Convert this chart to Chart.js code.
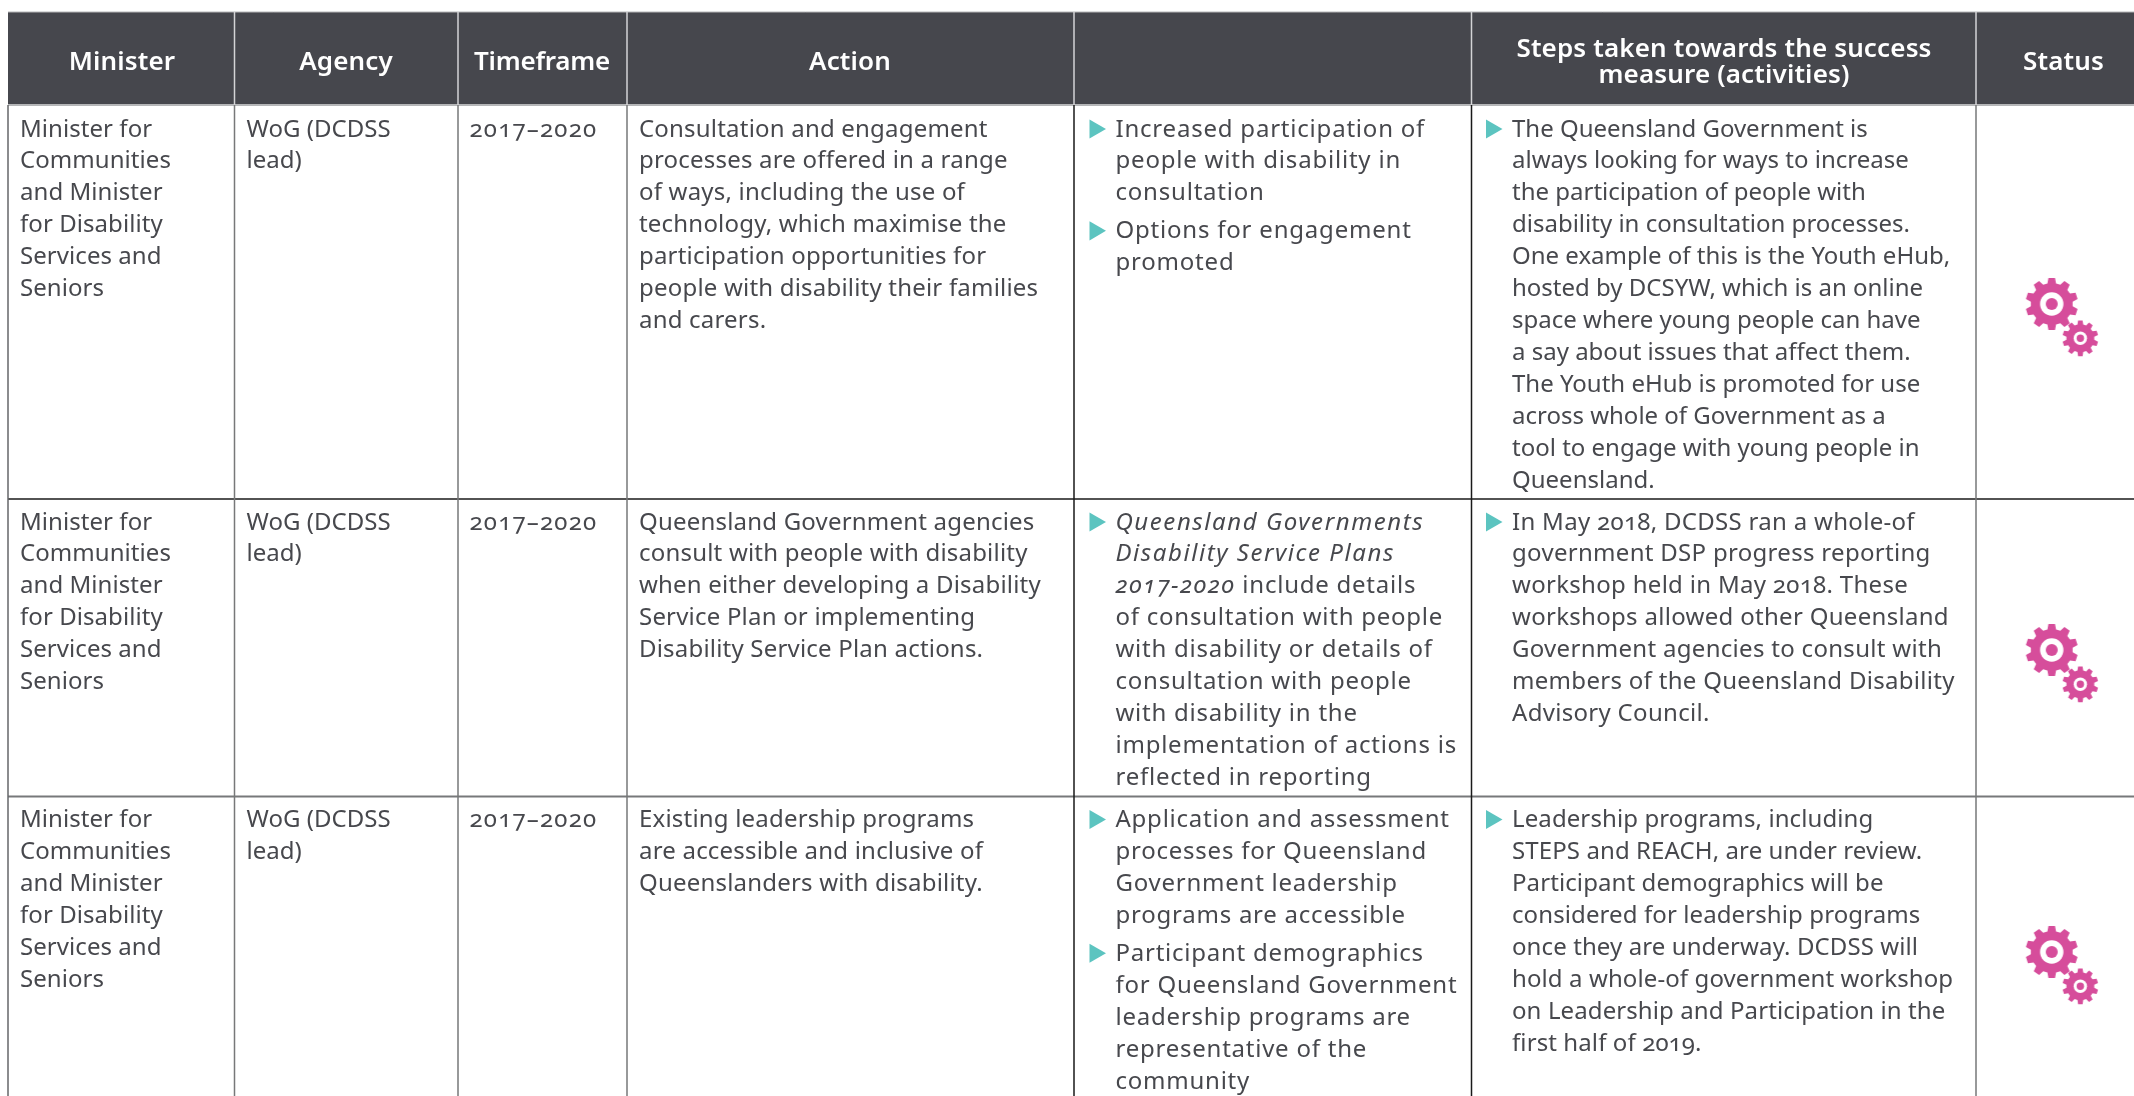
<!DOCTYPE html>
<html>
<head>
<meta charset="utf-8">
<script src="https://cdn.jsdelivr.net/npm/chart.js@4"></script>
<style>
  html, body { margin: 0; background: #fff; overflow: hidden; }
  canvas { display: block; font-feature-settings: "onum" 1; }
</style>
</head>
<body>
<canvas id="table-chart" width="2134" height="1096"></canvas>
<script>
// table content, one entry per row, lines broken as in the source page
const headers = ["Minister", "Agency", "Timeframe", "Action", "", "Steps taken towards the success|measure (activities)", "Status"];
const ministers = [
    ["Minister for", "Communities", "and Minister", "for Disability", "Services and", "Seniors"],
    ["Minister for", "Communities", "and Minister", "for Disability", "Services and", "Seniors"],
    ["Minister for", "Communities", "and Minister", "for Disability", "Services and", "Seniors"],
];
const agencies = [
    ["WoG (DCDSS", "lead)"],
    ["WoG (DCDSS", "lead)"],
    ["WoG (DCDSS", "lead)"],
];
const timeframes = ["2017–2020", "2017–2020", "2017–2020"];
const actions = [
    ["Consultation and engagement", "processes are offered in a range", "of ways, including the use of", "technology, which maximise the", "participation opportunities for", "people with disability their families", "and carers."],
    ["Queensland Government agencies", "consult with people with disability", "when either developing a Disability", "Service Plan or implementing", "Disability Service Plan actions."],
    ["Existing leadership programs", "are accessible and inclusive of", "Queenslanders with disability."],
];
// * toggles italic
const measures = [
    [["Increased participation of", "people with disability in", "consultation"], ["Options for engagement", "promoted"]],
    [["*Queensland Governments*", "*Disability Service Plans*", "*2017-2020* include details", "of consultation with people", "with disability or details of", "consultation with people", "with disability in the", "implementation of actions is", "reflected in reporting"]],
    [["Application and assessment", "processes for Queensland", "Government leadership", "programs are accessible"], ["Participant demographics", "for Queensland Government", "leadership programs are", "representative of the", "community"]],
];
const activities = [
    [["The Queensland Government is", "always looking for ways to increase", "the participation of people with", "disability in consultation processes.", "One example of this is the Youth eHub,", "hosted by DCSYW, which is an online", "space where young people can have", "a say about issues that affect them.", "The Youth eHub is promoted for use", "across whole of Government as a", "tool to engage with young people in", "Queensland."]],
    [["In May 2018, DCDSS ran a whole-of", "government DSP progress reporting", "workshop held in May 2018. These", "workshops allowed other Queensland", "Government agencies to consult with", "members of the Queensland Disability", "Advisory Council."]],
    [["Leadership programs, including", "STEPS and REACH, are under review.", "Participant demographics will be", "considered for leadership programs", "once they are underway. DCDSS will", "hold a whole-of government workshop", "on Leadership and Participation in the", "first half of 2019."]],
];

// table geometry, in canvas units
const columnEdges = [8, 234.5, 458, 627, 1074, 1471.5, 1976];
const rowEdges = [12, 105, 499, 796.5];
const rowBaselines = [136.5, 529.5, 827];
const headerCentres = [122, 346, 542, 850, 0, 1724, 2063.5];
const headerTracking = [0.15, 0.15, -0.25, 0.15, 0, 0.15, 0.15];
const gearRows = [317, 663, 965];
const TEXT = "#47484d";
const HEADER = "#46474d";
const TEAL = "#5cc4c0";
const PINK = "#d64d9b";
const LINE_H = 31.95;
const FAMILY = '"Noto Sans", sans-serif';

const paddings = [20, 246.5, 469.5, 639, 1115.5, 1512];
const bulletX = { 4: 1095, 5: 1491.5 };
// letter spacing per column and row
const tracking = [
    [0.06, 0.06, 0.06],
    [0.04, 0.04, 0.04],
    [1.2, 1.2, 1.2],
    [0.2, 0.2, 0.2],
    [0.79, 0.76, 0.76],
    [0.0, 0.3, 0.1],
];

function ruleSet(points, color, width) {
    return { data: points, showLine: true, borderColor: color, borderWidth: width, pointRadius: 0 };
}

const bottom = 1096;
const rules = [];
columnEdges.slice(1).forEach((x) => {
    const dark = x == 1074 || x == 1471.5;
    rules.push(ruleSet([{ x, y: rowEdges[0] }, { x, y: rowEdges[1] }], "#d4d4d6", 1.5));
    rules.push(ruleSet([{ x, y: rowEdges[1] }, { x, y: bottom }], dark ? "#1a1a1a" : "#777879", 1.5));
});
rules.push(ruleSet([{ x: columnEdges[0], y: rowEdges[1] }, { x: columnEdges[0], y: bottom }], "#666769", 1.5));
rules.push(ruleSet([{ x: 8, y: rowEdges[0] }, { x: 2134, y: rowEdges[0] }], "#b5b6b8", 1));
rules.push(ruleSet([{ x: 8, y: rowEdges[1] }, { x: 2134, y: rowEdges[1] }], "#b5b6b8", 2));
rules.push(ruleSet([{ x: 8, y: rowEdges[2] }, { x: 2134, y: rowEdges[2] }], "#1a1a1a", 1.5));
rules.push(ruleSet([{ x: 8, y: rowEdges[3] }, { x: 2134, y: rowEdges[3] }], "#77787a", 2));

// baseline of each line in a block list, with the extra gap between bullets
function layoutBlocks(blocks, top) {
    const out = [];
    let y = top;
    blocks.forEach((lines) => {
        lines.forEach((text, i) => {
            out.push({ text, y, first: i == 0 });
            y += LINE_H;
        });
        y += 6;
    });
    return out;
}

const bulletPoints = [];
[measures, activities].forEach((col, c) => {
    col.forEach((blocks, r) => {
        layoutBlocks(blocks, rowBaselines[r]).forEach((l) => {
            if (l.first) bulletPoints.push({ x: bulletX[c + 4], y: l.y - 7.5 });
        });
    });
});

function drawGear(ctx, cx, cy, outer, root, holeOuter, holeInner, teeth) {
    ctx.fillStyle = PINK;
    ctx.beginPath();
    for (let i = 0; i < teeth; i++) {
        const a = (i / teeth) * Math.PI * 2 - Math.PI / 2;
        const step = (Math.PI * 2) / teeth;
        const pts = [[root, a - step * 0.33], [outer, a - step * 0.2], [outer, a + step * 0.2], [root, a + step * 0.33]];
        pts.forEach(([r, t]) => ctx.lineTo(cx + Math.cos(t) * r, cy + Math.sin(t) * r));
    }
    ctx.closePath();
    ctx.fill();
    ctx.fillStyle = "#fff";
    ctx.beginPath();
    ctx.arc(cx, cy, holeOuter, 0, Math.PI * 2);
    ctx.fill();
    ctx.fillStyle = PINK;
    ctx.beginPath();
    ctx.arc(cx, cy, holeInner, 0, Math.PI * 2);
    ctx.fill();
}

const gearImage = document.createElement("canvas");
gearImage.width = 76;
gearImage.height = 80;
{
    const g = gearImage.getContext("2d");
    drawGear(g, 27, 27, 26.3, 21, 11.7, 6, 10);
    drawGear(g, 55.6, 61.3, 18, 14, 6.7, 3.7, 10);
}

function drawLine(ctx, text, x, y, size, spacing) {
    const parts = text.split("*");
    let cx = x;
    parts.forEach((part, i) => {
        if (!part) return;
        // the italic runs are set wider in the source
        ctx.letterSpacing = (i % 2 ? spacing + 0.8 : spacing) + "px";
        ctx.font = (i % 2 ? "italic " : "") + "400 " + size + "px " + FAMILY;
        ctx.fillText(part, cx, y);
        cx += ctx.measureText(part).width;
    });
}

const tablePlugin = {
    id: "tableText",
    beforeDatasetsDraw(chart) {
        const { ctx, scales } = chart;
        const x0 = scales.x.getPixelForValue(8);
        const x1 = scales.x.getPixelForValue(2134);
        const y0 = scales.y.getPixelForValue(rowEdges[0]);
        const y1 = scales.y.getPixelForValue(rowEdges[1]);
        ctx.save();
        ctx.fillStyle = HEADER;
        ctx.fillRect(x0, y0, x1 - x0, y1 - y0);
        ctx.restore();
    },
    afterDatasetsDraw(chart) {
        const { ctx, scales } = chart;
        ctx.save();
        ctx.textBaseline = "alphabetic";

        // header row
        ctx.fillStyle = "#ffffff";
        ctx.textAlign = "center";
        headers.forEach((h, i) => {
            if (!h) return;
            const lines = h.split("|");
            const px = scales.x.getPixelForValue(headerCentres[i]);
            ctx.letterSpacing = headerTracking[i] + "px";
            ctx.font = "600 26px " + FAMILY;
            if (lines.length == 1) {
                ctx.fillText(h, px, scales.y.getPixelForValue(70));
            } else {
                ctx.fillText(lines[0], px, scales.y.getPixelForValue(57));
                ctx.fillText(lines[1], px, scales.y.getPixelForValue(82.5));
            }
        });

        // body cells
        ctx.fillStyle = TEXT;
        ctx.textAlign = "left";
        const columns = [
            ministers.map((c) => [c]),
            agencies.map((c) => [c]),
            timeframes.map((c) => [[c]]),
            actions.map((c) => [c]),
            measures,
            activities,
        ];
        columns.forEach((col, c) => {
            col.forEach((blocks, r) => {
                layoutBlocks(blocks, rowBaselines[r]).forEach((l) => {
                    drawLine(ctx, l.text, scales.x.getPixelForValue(paddings[c]), scales.y.getPixelForValue(l.y), 24, tracking[c][r]);
                });
            });
        });
        ctx.restore();
    },
};

new Chart(document.getElementById("table-chart"), {
    type: "scatter",
    data: {
        datasets: [
            ...rules,
            {
                data: bulletPoints,
                pointStyle: "triangle",
                rotation: 90,
                radius: 11,
                backgroundColor: TEAL,
                borderWidth: 0,
            },
            {
                data: gearRows.map((y) => ({ x: 2062.7, y })),
                pointStyle: gearImage,
            },
        ],
    },
    options: {
        responsive: false,
        animation: false,
        layout: { padding: 0, autoPadding: false },
        plugins: { legend: { display: false }, tooltip: { enabled: false } },
        scales: {
            x: { type: "linear", min: 0, max: 2134, display: false },
            y: { type: "linear", min: 0, max: 1096, reverse: true, display: false },
        },
    },
    plugins: [tablePlugin],
});
</script>
</body>
</html>
